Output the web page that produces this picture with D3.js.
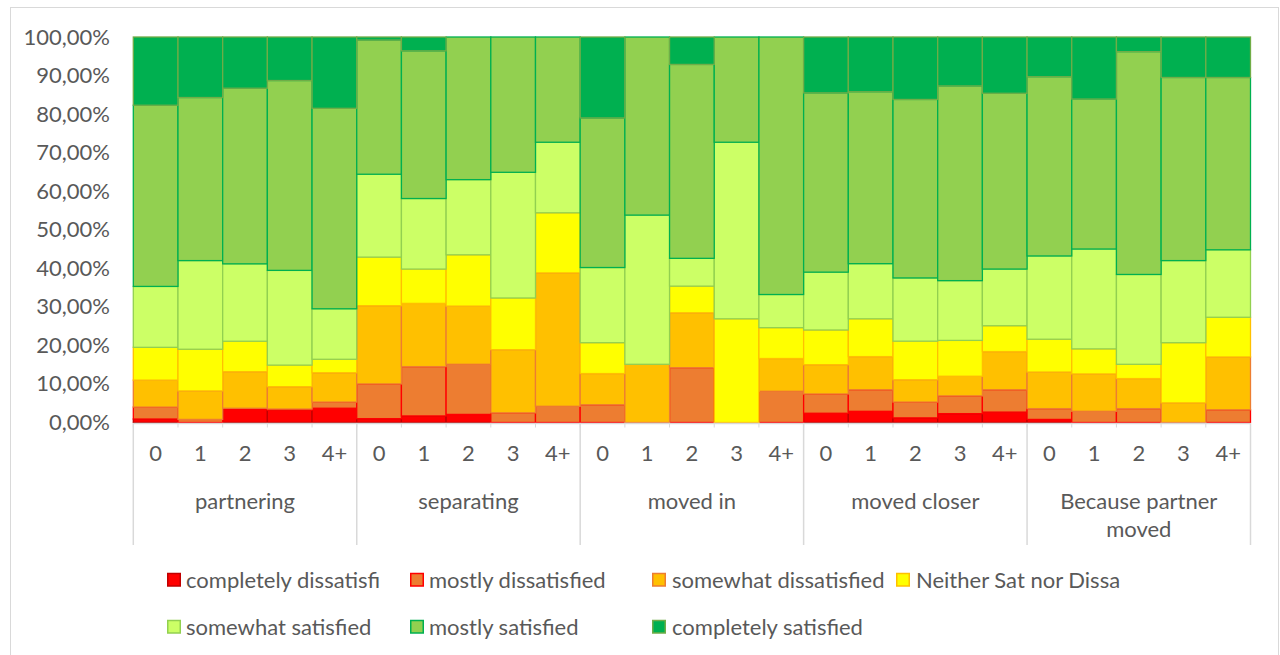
<!DOCTYPE html>
<html>
<head>
<meta charset="utf-8">
<script src="https://cdn.jsdelivr.net/npm/d3@7"></script>
<style>
  html, body { margin: 0; padding: 0; background: #fff; }
  svg { display: block; }
  text { font-family: Lato, "Open Sans", sans-serif; fill: #595959; }
</style>
</head>
<body>
<svg id="chart" width="1280" height="655"></svg>
<script>
// Reasons for moving, split by number of children
const groups = ["partnering", "separating", "moved in", "moved closer", "Because partner moved"];
const subCats = ["0", "1", "2", "3", "4+"];

const seriesNames = [
  "completely dissatisfi",
  "mostly dissatisfied",
  "somewhat dissatisfied",
  "Neither Sat nor Dissa",
  "somewhat satisfied",
  "mostly satisfied",
  "completely satisfied"
];

// Shares in percent, 5 values per group in the order of `groups`
const completelyDissatisfied = [0.9, 0, 3.7, 3.2, 3.7,   1.0, 1.7, 2.1, 0, 0,        0, 0, 0, 0, 0,           2.4, 2.9, 1.2, 2.3, 2.7,   0.8, 0, 0, 0, 0];
const mostlyDissatisfied     = [3.1, 0.8, 0, 0.3, 1.6,   9.0, 12.8, 13.0, 2.5, 4.2,  4.6, 0, 14.2, 0, 8.1,    5.0, 5.6, 4.1, 4.6, 5.8,   2.8, 2.9, 3.6, 0, 3.3];
const somewhatDissatisfied   = [7.0, 7.4, 9.5, 5.8, 7.6,  20.3, 16.4, 15.1, 16.4, 34.6, 8.1, 15.1, 14.2, 0, 8.5, 7.6, 8.6, 5.8, 5.1, 9.9,  9.5, 9.7, 7.8, 5.1, 13.7];
const neitherSatNorDissat    = [8.5, 10.8, 7.9, 5.6, 3.5, 12.6, 8.9, 13.3, 13.4, 15.6, 8.0, 0, 6.9, 26.9, 8.0,   9.0, 9.8, 10.0, 9.3, 6.7,  8.5, 6.5, 3.7, 15.6, 10.3];
const somewhatSatisfied      = [15.8, 23.0, 20.1, 24.6, 13.1, 21.5, 18.3, 19.5, 32.6, 18.3, 19.5, 38.7, 7.2, 45.8, 8.6, 15.0, 14.3, 16.4, 15.5, 14.7, 21.6, 25.9, 23.3, 21.3, 17.5];
const mostlySatisfied        = [47.0, 42.3, 45.6, 49.3, 52.0, 34.8, 38.3, 37.0, 35.1, 27.3, 38.8, 46.2, 50.2, 27.3, 66.8, 46.5, 44.6, 46.3, 50.5, 45.6, 46.5, 38.9, 57.8, 47.5, 44.7];
const completelySatisfied    = [17.7, 15.7, 13.3, 11.3, 18.5, 0.8, 3.6, 0, 0, 0,  21.0, 0, 7.1, 0, 0,  14.5, 14.2, 16.2, 12.7, 14.6, 10.3, 16.1, 3.8, 10.5, 10.5];

const yTicks = [0, 10, 20, 30, 40, 50, 60, 70, 80, 90, 100];

const fills   = ["#FF0000", "#ED7D31", "#FFC000", "#FFFF00", "#CCFF66", "#92D050", "#00B050"];
const strokes = ["#C00000", "#FF0000", "#ED7D31", "#FFC000", "#92D050", "#00B050", "#70AD47"];

const seriesValues = [completelyDissatisfied, mostlyDissatisfied, somewhatDissatisfied,
  neitherSatNorDissat, somewhatSatisfied, mostlySatisfied, completelySatisfied];

const fontSize = 22;

// Build one row per bar
const rows = [];
groups.forEach((g, gi) => {
  subCats.forEach((c, ci) => {
    const i = gi * subCats.length + ci;
    const row = { id: g + "|" + c, group: g, cat: c };
    seriesNames.forEach((s, si) => { row[s] = seriesValues[si][i]; });
    rows.push(row);
  });
});

const svg = d3.select("#chart");

// Chart frame
svg.append("rect")
  .attr("x", 10.5).attr("y", 7.5)
  .attr("width", 1268).attr("height", 700)
  .attr("fill", "none").attr("stroke", "#D9D9D9").attr("stroke-width", 1);

const plotLeft = 133.3, plotRight = 1250.5, plotTop = 37, plotBottom = 422.5;

const x = d3.scaleBand()
  .domain(rows.map(r => r.id))
  .range([plotLeft, plotRight])
  .padding(0);

const y = d3.scaleLinear()
  .domain([0, 1])
  .range([plotBottom, plotTop]);

const stack = d3.stack()
  .keys(seriesNames)
  .offset(d3.stackOffsetExpand);
const stacked = stack(rows);

// Stacked bars
svg.append("g")
  .selectAll("g")
  .data(stacked)
  .join("g")
    .attr("fill", (d, i) => fills[i])
    .attr("stroke", (d, i) => strokes[i])
    .attr("stroke-width", 1.3)
  .selectAll("rect")
  .data(d => d.filter(p => p[1] - p[0] > 0))
  .join("rect")
    .attr("x", p => x(p.data.id))
    .attr("width", x.bandwidth())
    .attr("y", p => y(p[1]))
    .attr("height", p => y(p[0]) - y(p[1]));

// Y axis labels (no axis line)
const yAxis = d3.axisLeft(y)
  .tickValues(yTicks.map(v => v / 100))
  .tickSize(0)
  .tickPadding(0)
  .tickFormat(v => d3.format(".2f")(v * 100).replace(".", ",") + "%");
const gy = svg.append("g")
  .attr("transform", "translate(110,0)")
  .call(yAxis);
gy.select(".domain").remove();
gy.selectAll("text")
  .attr("font-size", fontSize)
  .attr("font-family", "Lato, 'Open Sans', sans-serif")
  .attr("fill", "#595959");

// Category axis
const axisG = svg.append("g");
axisG.append("line")
  .attr("x1", plotLeft).attr("x2", plotRight)
  .attr("y1", plotBottom + 1).attr("y2", plotBottom + 1)
  .attr("stroke", "#D9D9D9").attr("stroke-width", 1.5);

// Small ticks between bars
axisG.selectAll("line.tick")
  .data(rows)
  .join("line")
    .attr("class", "tick")
    .attr("x1", r => x(r.id)).attr("x2", r => x(r.id))
    .attr("y1", plotBottom + 1).attr("y2", plotBottom + 5)
    .attr("stroke", "#D9D9D9");

// Sub-category labels
axisG.selectAll("text.sub")
  .data(rows)
  .join("text")
    .attr("class", "sub")
    .attr("x", r => x(r.id) + x.bandwidth() / 2)
    .attr("y", 453)
    .attr("dy", "0.35em")
    .attr("text-anchor", "middle")
    .attr("font-size", fontSize)
    .text(r => r.cat);

// Group separators
const groupEdges = groups.map(g => x(g + "|" + subCats[0]));
groupEdges.push(plotRight);
axisG.selectAll("line.sep")
  .data(groupEdges)
  .join("line")
    .attr("class", "sep")
    .attr("x1", d => d).attr("x2", d => d)
    .attr("y1", plotBottom + 1).attr("y2", 545)
    .attr("stroke", "#D9D9D9").attr("stroke-width", 1.5);

// Group labels (wrapped where Excel wraps them)
const groupLines = {
  "Because partner moved": ["Because partner", "moved"]
};
groups.forEach((g, gi) => {
  const cx = (groupEdges[gi] + groupEdges[gi + 1]) / 2;
  const lines = groupLines[g] || [g];
  const t = axisG.append("text")
    .attr("x", cx).attr("y", 501)
    .attr("text-anchor", "middle")
    .attr("font-size", fontSize);
  lines.forEach((ln, li) => {
    t.append("tspan")
      .attr("x", cx)
      .attr("dy", li === 0 ? "0.35em" : 28)
      .text(ln);
  });
});

// Legend
const legendPos = [
  { sx: 167, tx: 186, y: 580 },
  { sx: 410, tx: 429, y: 580 },
  { sx: 652, tx: 672, y: 580 },
  { sx: 896, tx: 916, y: 580 },
  { sx: 167, tx: 186, y: 627 },
  { sx: 410, tx: 429, y: 627 },
  { sx: 652, tx: 672, y: 627 }
];
const legend = svg.append("g")
  .selectAll("g")
  .data(seriesNames)
  .join("g");
legend.append("rect")
  .attr("x", (d, i) => legendPos[i].sx + 0.75)
  .attr("y", (d, i) => legendPos[i].y - 6.5)
  .attr("width", 12.5).attr("height", 12.5)
  .attr("fill", (d, i) => fills[i])
  .attr("stroke", (d, i) => strokes[i])
  .attr("stroke-width", 1.5);
legend.append("text")
  .attr("x", (d, i) => legendPos[i].tx)
  .attr("y", (d, i) => legendPos[i].y)
  .attr("dy", "0.35em")
  .attr("font-size", fontSize)
  .text(d => d);
</script>
</body>
</html>
